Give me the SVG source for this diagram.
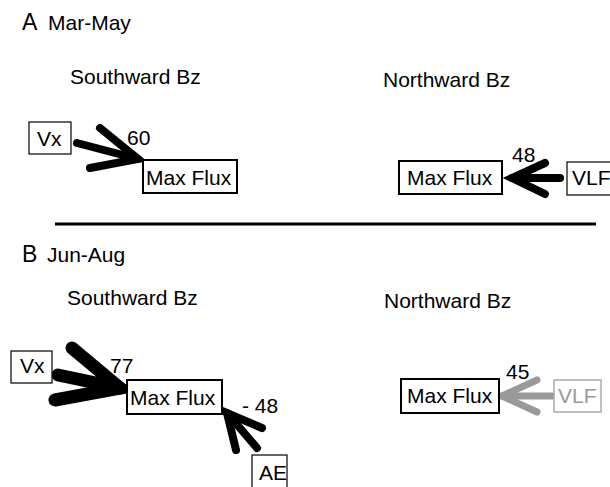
<svg xmlns="http://www.w3.org/2000/svg" width="610" height="487" viewBox="0 0 610 487">
<style>
text{font-family:"Liberation Sans",Arial,sans-serif;font-size:21px;fill:#000}
.big{font-size:23px}
.box{fill:#fff;stroke:#000;stroke-width:2}
.thin{stroke-width:1.2}
.gbox{fill:#fff;stroke:#aaa;stroke-width:1.5}
.gt{fill:#999}
.arr{fill:none;stroke:#000;stroke-linecap:round;stroke-linejoin:miter;stroke-miterlimit:10}
.garr{fill:none;stroke:#999;stroke-linecap:round;stroke-linejoin:miter;stroke-miterlimit:10}
</style>
<rect width="610" height="487" fill="#fff"/>
<g id="headings">
<text x="22" y="30" class="big">A</text><text x="48" y="30">Mar-May</text>
<text x="70" y="84">Southward Bz</text>
<text x="383" y="87">Northward Bz</text>
<line x1="55" y1="224" x2="596" y2="224" stroke="#000" stroke-width="3"/>
<text x="22" y="262" class="big">B</text><text x="47" y="262">Jun-Aug</text>
<text x="67" y="305">Southward Bz</text>
<text x="384" y="308">Northward Bz</text>
</g>
<g id="connectors">
<g id="a-vx-arrow" class="arr" stroke-width="8"><path d="M77 143 L138 159"/><path d="M100 128 L138 159 L90 168"/></g>
<text x="127" y="145">60</text>
<g id="a-vlf-arrow" class="arr" stroke-width="8"><path d="M560 178 L512 178"/><path d="M545 163 L512 178 L545 194"/></g>
<text x="512" y="162">48</text>
<g id="b-vx-arrow" class="arr" stroke-width="13"><path d="M58 375 L120 388"/><path d="M72 348 L120 388 L55 400"/></g>
<text x="110" y="373">77</text>
<g id="b-ae-arrow" class="arr" stroke-width="8"><path d="M257 448 L227 413"/><path d="M262 428 L227 413 L236 450"/></g>
<text x="242" y="413">- 48</text>
<g id="b-vlf-arrow" class="garr" stroke-width="7"><path d="M552 396 L502 396"/><path d="M537 380 L502 396 L537 412"/></g>
<text x="506" y="379">45</text>
</g>
<g id="a-vx"><rect x="29" y="122" width="42" height="32" class="box thin"/><text x="37" y="146">Vx</text></g>
<g id="a-maxflux-s"><rect x="143" y="160" width="94" height="33" class="box"/><text x="146" y="185">Max Flux</text></g>
<g id="a-maxflux-n"><rect x="399" y="161" width="103" height="33" class="box"/><text x="407" y="185">Max Flux</text></g>
<g id="a-vlf"><rect x="567" y="162" width="50" height="33" class="box thin"/><text x="572" y="185">VLF</text></g>
<g id="b-vx"><rect x="11" y="351" width="41" height="32" class="box thin"/><text x="20" y="373">Vx</text></g>
<g id="b-maxflux-s"><rect x="127" y="380" width="95" height="34" class="box"/><text x="130" y="405">Max Flux</text></g>
<g id="b-ae"><rect x="252" y="455" width="35" height="40" class="box thin"/><text x="259" y="480">AE</text></g>
<g id="b-maxflux-n"><rect x="401" y="379" width="98" height="34" class="box"/><text x="407" y="403">Max Flux</text></g>
<g id="b-vlf"><rect x="554" y="380" width="47" height="32" class="gbox"/><text x="558" y="403" class="gt">VLF</text></g>
</svg>
